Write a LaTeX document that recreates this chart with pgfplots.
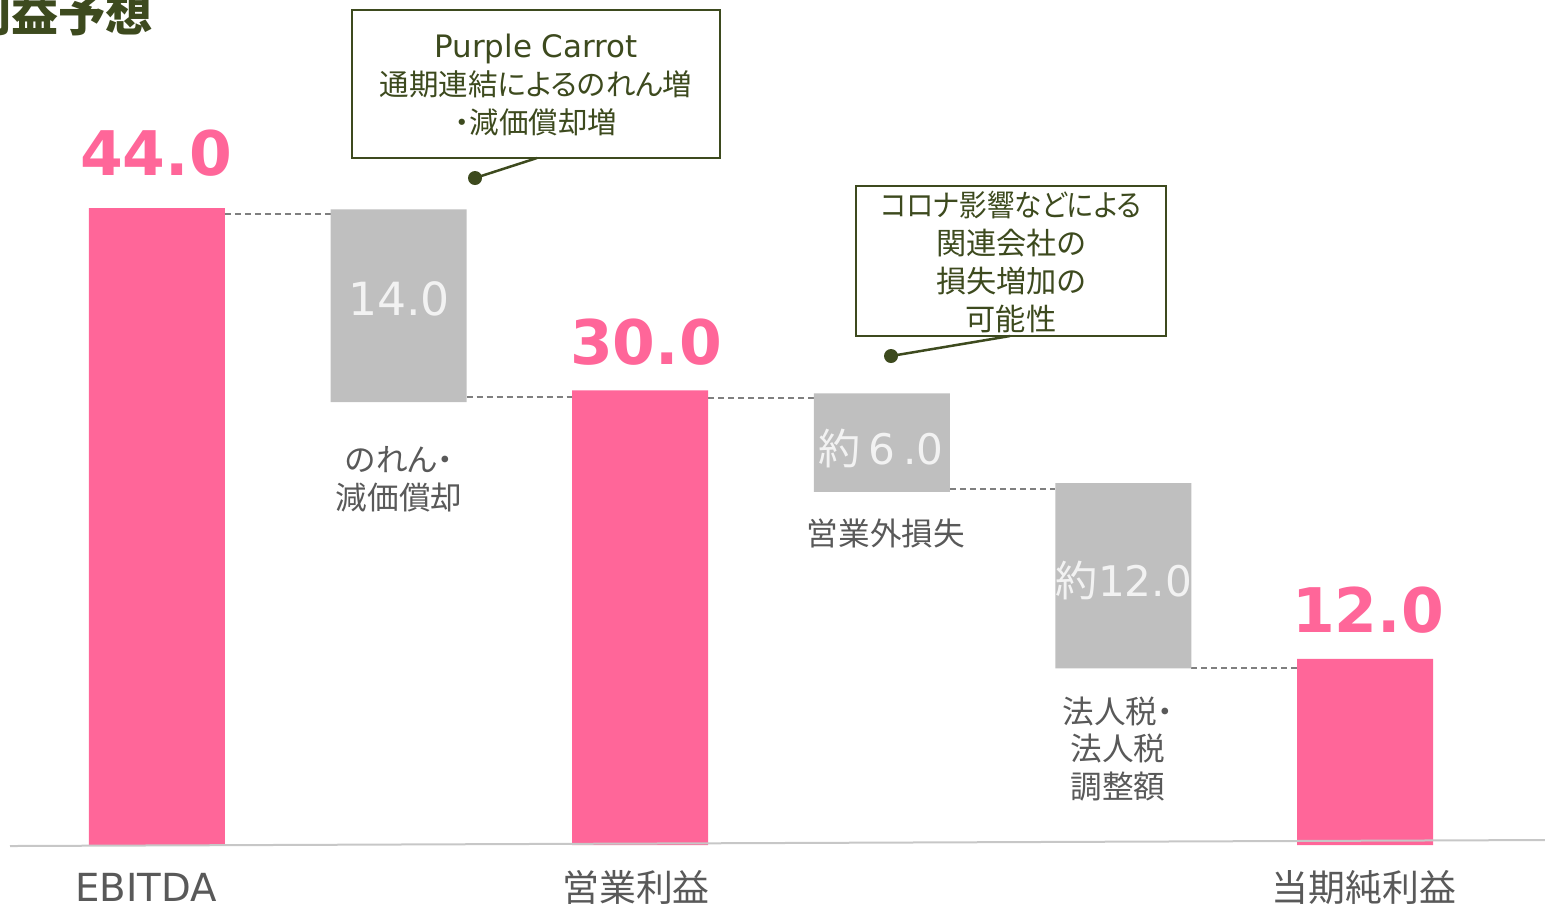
\documentclass[border=0pt]{standalone}
\usepackage{pgfplots}
\pgfplotsset{compat=1.18}
\usepackage{fontspec}
\setmainfont{DejaVu Sans}
\newfontfamily\jp[RawFeature=+palt]{Noto Sans CJK JP}

\definecolor{pinkbar}{HTML}{FF6699}
\definecolor{graybar}{HTML}{BFBFBF}
\definecolor{olive}{HTML}{3D4A1E}
\definecolor{labgray}{HTML}{595959}
\definecolor{dashgray}{HTML}{7F7F7F}

\tikzset{conn/.style={dashgray, line width=0.15mm, dash pattern=on 0.6mm off 0.4mm}}

\begin{document}
\begin{tikzpicture}
\path[use as bounding box] (0,0) rectangle (154.5mm,90.5mm);

\begin{axis}[
    at={(1mm,6mm)}, anchor=south west,
    scale only axis, width=153.5mm, height=84.5mm,
    xmin=-0.608, xmax=5.745, ymin=0, ymax=58.37,
    enlargelimits=false,
    ybar stacked, bar width=13.6mm,
    axis y line=none, axis x line=bottom,
    axis line style={draw=none}, tick style={draw=none},
    xtick={-0.045,1.983,4.996},
    xticklabels={EBITDA, {\jp\fontsize{10.5}{12}\selectfont 営業利益}, {\jp\fontsize{10.5}{12}\selectfont 当期純利益}},
    xticklabel style={font=\fontsize{11}{13}\selectfont, text=labgray, anchor=base, yshift=-4.9mm},
    clip=false,
]
% invisible base of the floating bars
\addplot[draw=none, fill=none] coordinates {(0,0) (1,30.6) (2,0) (3,24.4) (4,12.2) (5,0)};
% totals
\addplot[draw=none, fill=pinkbar] coordinates {(0,44) (1,0) (2,31.4) (3,0) (4,0) (5,12.85)};
% deductions
\addplot[draw=none, fill=graybar] coordinates {(0,0) (1,13.3) (2,0) (3,6.8) (4,12.8) (5,0)};

% connectors
\draw[conn] (axis cs:0.2815,43.59) -- (axis cs:0.7185,43.59);
\draw[conn] (axis cs:1.2815,30.95) -- (axis cs:1.7185,30.95);
\draw[conn] (axis cs:2.2815,30.88) -- (axis cs:2.7185,30.88);
\draw[conn] (axis cs:3.2815,24.59) -- (axis cs:3.7185,24.59);
\draw[conn] (axis cs:4.2815,12.23) -- (axis cs:4.7185,12.23);
\end{axis}

% annotations, in pixels of the 1545x905 frame (origin top left)
\begin{scope}[x=0.1mm, y=-0.1mm, shift={(0,90.5mm)}]
\draw[black!22, line width=0.2mm] (10,846) -- (1545,840);

\node[anchor=east, text=olive, font=\jp\bfseries\fontsize{13.4}{15}\selectfont] at (165,14) {利益予想};

\node[text=pinkbar, font=\bfseries\fontsize{17.5}{20}\selectfont] at (156,153) {44.0};
\node[text=pinkbar, font=\bfseries\fontsize{17.5}{20}\selectfont] at (646,342) {30.0};
\node[text=pinkbar, font=\bfseries\fontsize{17.5}{20}\selectfont] at (1368,610) {12.0};

\node[text=white!95!black, font=\fontsize{13}{15}\selectfont] at (399,299) {14.0};
\node[text=white!95!black, font=\fontsize{12}{14}\selectfont] at (881,448) {{\jp 約}\hspace{0.8mm}6\hspace{0.8mm}.0};
\node[text=white!95!black, font=\fontsize{12}{14}\selectfont] at (1124,580) {{\jp 約}12.0};

\node[text=labgray, align=center, font=\jp\fontsize{9}{10.8}\selectfont] at (399,479) {のれん・\\減価償却};
\node[text=labgray, align=center, font=\jp\fontsize{9}{10.8}\selectfont] at (886,533) {営業外損失};
\node[text=labgray, align=center, font=\jp\fontsize{9}{10.8}\selectfont] at (1118,749) {法人税・\\法人税\\調整額};

% callout 1
\draw[olive, line width=0.2mm] (352,10) rectangle (720,158);
\node[text=olive, align=center, font=\jp\fontsize{8.4}{10.8}\selectfont] at (536,85)
  {{\fontspec{DejaVu Sans}\fontsize{8.8}{10.8}\selectfont Purple Carrot}\\通期連結によるのれん増\\・減価償却増};
\draw[olive, line width=0.25mm] (537,158) -- (475,178);
\fill[olive] (475,178) circle[radius=0.7mm];

% callout 2
\draw[olive, line width=0.2mm] (856,186) rectangle (1166,336);
\node[text=olive, align=center, font=\jp\fontsize{8.6}{10.8}\selectfont] at (1011,262)
  {\scalebox{0.91}[1]{コロナ影響などによる}\\関連会社の\\損失増加の\\可能性};
\draw[olive, line width=0.25mm] (1010,336) -- (891,356);
\fill[olive] (891,356) circle[radius=0.7mm];
\end{scope}
\end{tikzpicture}
\end{document}
